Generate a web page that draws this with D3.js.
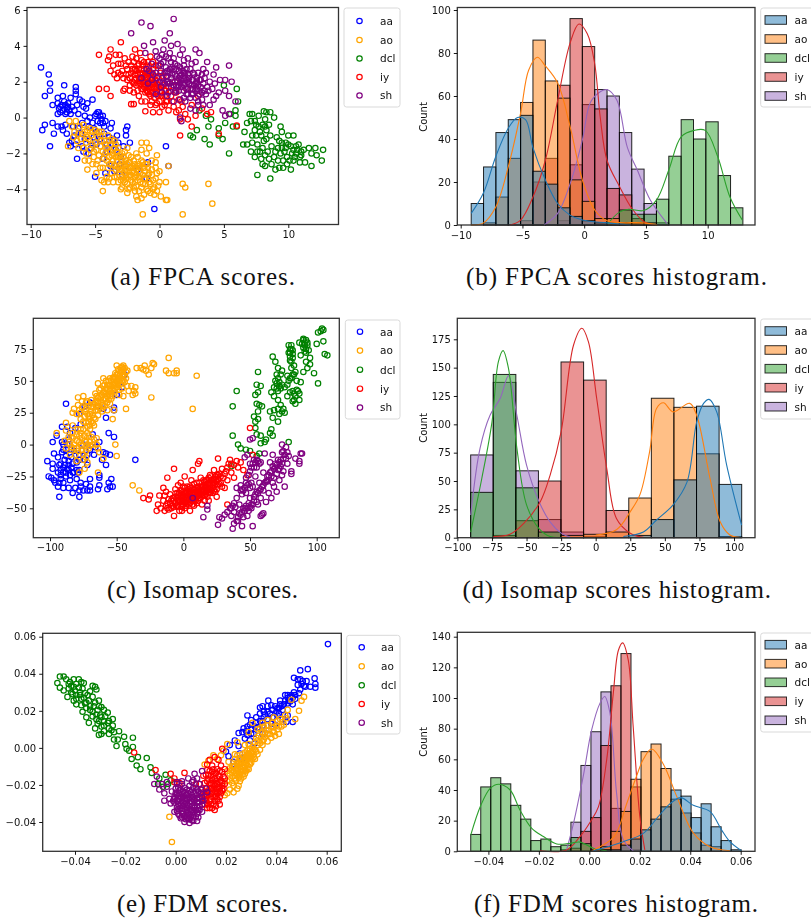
<!DOCTYPE html>
<html>
<head>
<meta charset="utf-8">
<script src="https://cdn.jsdelivr.net/npm/d3@7"></script>
<style>
  html, body { margin: 0; padding: 0; background: #fff; overflow: hidden; }
  svg { display: block; }
  .plot { filter: blur(0.4px); }
</style>
</head>
<body>
<svg id="fig" width="811" height="920"></svg>
<script>
var labels = ["aa", "ao", "dcl", "iy", "sh"];
var scatterColors = ["blue", "orange", "green", "red", "purple"];
var histColors = ["#1f77b4", "#ff7f0e", "#2ca02c", "#d62728", "#9467bd"];

// (a) FPCA scores
var fpcaAa = [[-9.2,2.8],[-8.6,2.4],[-8.5,1.9],[-8.5,1.5],[-8.9,1.2],[-8.3,.7],[-9.1,-.7],[-8.9,-.4],[-8.3,-.3],[-8.2,-.9],[-8.5,-1.6],[-7.9,-.5],[-7.4,1.8],[-6.5,1.7],[-6.5,1.5],[-6.5,1.3],[-5.2,1],[-.4,-5.1],[.5,-1.6],[.7,-2.7],[-.9,-2.5],[-1,-3.4],[-5,-3.3],[-6.4,-2.3],[-2.5,-.5],[-2.6,-.7],[-2.6,-1],[-2.3,-1.4],[-7.9,1.1],[-7.9,.8],[-7.7,.6],[-7.5,.4],[-7.3,.7],[-7.2,.5],[-7.5,1.2],[-7.1,.8],[-7,.4],[-7.7,.3],[-7.9,.2],[-6.6,.4],[-6.4,.7],[-6.2,1],[-6,.9],[-5.9,.6],[-5.6,.8],[-5.7,.5],[-6.3,.2],[-5.8,.1],[-5.4,0],[-5,.1],[-4.7,.3],[-4.6,.1],[-4.5,-.1],[-4.4,.1],[-4.8,-.2],[-5.2,-.3],[-4.3,-.5],[-3.7,-.3],[-3.8,-.6],[-5.5,-.5],[-6,-.3],[-6.7,-.5],[-7.3,-.4],[-7.5,-.7],[-7.2,-.9],[-6.8,-1.3],[-6.5,-1.5],[-6,-1.6],[-5.9,-1.9],[-5.5,-2],[-5.3,-1.7],[-5.8,-1.2],[-4.9,-1.5],[-4.6,-1.2],[-3.6,-1.2],[-3.3,-1],[-3.4,-1.8],[-3,-2.2],[-2.6,-2.7],[-3.8,-2.7],[-4.2,-3.1],[-2.9,-3.2],[-1.7,-2.9],[-4.1,-1.9],[-6.9,-1.6],[-7,-1.4],[-6.1,-.9],[-4.9,-.8],[-7.6,-.5],[-6.9,1.1],[-7.3,.2],[-7.8,.5],[-7.4,.9],[-7.2,.3],[-7.6,.7],[-7.1,.6],[-6.8,.6],[-6.9,.2],[-4.9,.2],[-4.8,.3],[-4.6,-.3],[-4.4,-.3],[-4.2,-.2],[-5.1,-.6],[-5.6,-.2],[-6.3,-.6],[-6.6,-1],[-5.4,-1.3],[-5.1,-1.1],[-4.3,-.9],[-3.9,-1.1],[-4.1,-1.5],[-3.6,-1.5],[-3.2,-1.4],[-2.8,-1.6],[-3.1,-2.6],[-3.5,-3],[-4.4,-2.3]];
var fpcaAo = [[-7.1,-1.6],[-5.8,-2.4],[-5.5,-2.4],[-5.6,-2.9],[-5.2,-2.6],[-4.9,-3.1],[-4.5,-3.5],[-4.3,-3.6],[-4.4,-4.1],[-3,-4],[-2.3,-3.9],[-1.8,-4.4],[-1.7,-4.6],[-1.4,-4.5],[-1.2,-4.3],[-1.3,-5.4],[1.8,-5.4],[4.1,-4.8],[3.8,-3.7],[1.8,-3.7],[2,-3.9],[.5,-4.6],[.6,-4.6],[.5,-3.6],[.7,-2.7],[-.2,-2.1],[-.8,-1.7],[-1.4,-1.4],[-1,-2],[-.6,-2.4],[-.3,-2.5],[-.2,-3.1],[0,-3],[0,-3.6],[-.4,-3.9],[-.2,-4.1],[-7,-.2],[-6.8,-.5],[-6.6,-.8],[-6.5,-.2],[-6.2,-.5],[-6,-.9],[-5.9,-.4],[-5.6,-.7],[-5.5,-1.2],[-5.3,-1],[-5,-.7],[-5,-1.4],[-4.8,-1.1],[-4.6,-1.6],[-4.5,-.8],[-4.3,-1.3],[-4.2,-2],[-4.1,-1.7],[-4,-1],[-3.9,-2.2],[-3.8,-1.5],[-3.7,-2.6],[-3.6,-2],[-3.5,-1.3],[-3.4,-2.9],[-3.3,-2.4],[-3.2,-1.7],[-3.1,-3.2],[-3,-2.7],[-2.9,-2],[-2.8,-3.5],[-2.7,-3],[-2.6,-2.4],[-2.5,-1.7],[-2.4,-3.3],[-2.3,-2.8],[-2.2,-2.2],[-2.1,-3.6],[-2,-3.1],[-1.9,-2.6],[-1.8,-3.8],[-1.7,-2.2],[-1.6,-3.3],[-1.5,-2.8],[-1.4,-3.9],[-1.3,-2.5],[-1.2,-3.4],[-1.1,-3],[-1,-4],[-.9,-2.8],[-.8,-3.6],[-.7,-4.2],[-.6,-3.2],[-.5,-4],[-4.8,-2.4],[-4.4,-2.8],[-4.1,-3.3],[-3.6,-3.6],[-3.2,-3.6],[-2.4,-4],[-1,-1.4],[-1.4,-1.8],[-6.4,-1.3],[-5.9,-1.7],[-5.1,-1.9],
  [-6.7,-1.1],[-6.3,-.9],[-6.1,-1.2],[-5.8,-.8],[-5.7,-1.4],[-5.4,-.6],[-5.2,-1.5],[-4.9,-1.8],[-4.7,-.8],[-4.7,-2.1],[-4.5,-1.3],[-4.4,-1.9],[-4.2,-1.5],[-4.1,-2.4],[-4,-2.8],[-3.9,-1.3],[-3.8,-1.9],[-3.7,-3.1],[-3.6,-2.4],[-3.5,-1.7],[-3.4,-2.2],[-3.3,-3.3],[-3.3,-1.9],[-3.2,-2.8],[-3.1,-2.1],[-3,-3.5],[-3,-2.3],[-2.9,-2.9],[-2.8,-2.2],[-2.8,-2.7],[-2.7,-3.6],[-2.7,-1.9],[-2.6,-3.2],[-2.5,-2.6],[-2.5,-3.7],[-2.4,-2.1],[-2.3,-3.2],[-2.3,-2.5],[-2.2,-3.5],[-2.1,-2.7],[-2.1,-3],[-2,-2.4],[-2,-3.9],[-1.9,-3.3],[-1.8,-2.9],[-1.8,-2],[-1.7,-3.5],[-1.6,-2.6],[-1.6,-4.1],[-1.5,-3.1],[-1.4,-2.4],[-1.3,-3.7],[-1.2,-2.8],[-1.1,-3.4],[-1,-2.6],[-.9,-3.2],[-.9,-4.1],[-.7,-3.7],[-.6,-2.9],[-.5,-3.5],[-.4,-4.3],[-.3,-3.4],[-.1,-3.8],[.1,-4.4],[-3.9,-3.4],[-3.5,-3.3],[-2.9,-3.9],[-2.5,-4.2],[-1.9,-4.1],[-5.4,-1.8],[-5.7,-2],[-5.1,-2.2],[-4.6,-2.8],[-4,-3.6],
  [-6.3,-1.7],[-5.6,-1.1],[-5.2,-.8],[-4.9,-2.6],[-4.6,-1],[-4.3,-2.3],[-4,-1.9],[-3.9,-2.6],[-3.7,-1.2],[-3.7,-2.1],[-3.5,-2.7],[-3.4,-1.5],[-3.2,-2.2],[-3.1,-2.9],[-2.9,-2.4],[-2.9,-3.3],[-2.7,-2.6],[-2.6,-2.9],[-2.6,-3.4],[-2.4,-2.5],[-2.4,-3],[-2.2,-2.8],[-2.2,-3.2],[-2,-2.8],[-1.9,-3.6],[-1.8,-3.2],[-1.7,-2.7],[-1.6,-3],[-1.5,-3.6],[-1.3,-3.2],[-1.1,-2.6],[-1.1,-3.7],[-.8,-3.1],[-.3,-2.8]];
var fpcaDcl = [[5,1.8],[6,1.6],[6.1,.9],[5.9,.4],[5.9,.1],[5.5,.2],[5.1,-.3],[5.7,-.5],[6,-.5],[4.6,-.6],[4.6,-1],[4.9,-1.2],[5.4,-2],[3.9,-1.5],[3.5,-1.2],[3.8,-.5],[4,-.1],[3.6,.1],[3.1,.4],[2.9,-.7],[2.4,-1],[2.6,-1.1],[7.6,-3.2],[8.6,-3.4],[7,.2],[7.2,.2],[7.1,-.2],[7.4,-.2],[6.8,-.3],[6.6,-.8],[7.4,-.7],[7.7,-.5],[8,-.4],[8.2,-.1],[8.5,-.4],[8.3,.3],[8.1,.35],[8.6,.3],[7.7,.1],[8.9,0],[9.4,-.5],[9.5,-.8],[9.1,-1.1],[8.6,-1],[8.3,-1.2],[7.9,-1],[7.5,-1],[7.2,-1.4],[6.8,-1.5],[6.5,-1.5],[7.1,-1.9],[7.4,-2.2],[7.9,-2.3],[8,-1.7],[8.4,-1.9],[8.7,-1.6],[9,-1.9],[8.5,-2.3],[8.7,-2.6],[8,-2.6],[9,-2.9],[9.3,-2.8],[9.6,-2.4],[9.9,-2.2],[10.2,-2.9],[10.4,-2.4],[10.6,-2],[10.2,-1.6],[9.8,-1.4],[9.5,-1.7],[10,-1],[10.4,-1],[10.8,-1.5],[11,-2.1],[11.3,-2.5],[11.6,-1.7],[11.8,-2],[12.2,-2.1],[12.1,-1.7],[12.7,-1.8],[12.6,-2.4],[11.8,-2.7],[10.9,-2.5],[11.2,-1.8],[9.7,-1.9],[10.3,-2],[10.7,-1.8],[9.3,-1.3],[7.5,-.4],[7.8,-.8],[8.1,-1.3],[8.3,-.7],[8.2,-.5],[7.6,-1.5],[7.8,-1.9],[8.2,-2.1],[8.9,-2.2],[9.2,-2.4],[9.4,-2],[9.8,-1.7],[10,-1.5],[10.1,-2.4],[10.4,-1.8],[10.5,-2.2],[10.6,-1.6],[10.9,-2.2],[11,-1.9],[9.6,-2.8],[9.9,-2.6],[8.2,-2.7],[7.6,-1.9],[7.2,-1],[9.2,-1.7],[9.5,-1.4]];
var fpcaIy = [[-4.7,3.5],[-3.8,3.8],[-3.1,3.5],[-3,4.2],[-4,3.2],[-3.8,2.6],[-3.5,2.4],[-3.3,2.2],[-3.6,2.9],[-3.2,3],[-2.9,2.6],[-2.7,3.3],[-2.6,2.9],[-2.7,1.6],[-2.8,1.5],[-2.4,2.4],[-2.3,1.8],[-2.2,2.9],[-2.1,3.4],[-1.9,3.8],[-1.8,2.2],[-1.7,1.5],[-1.6,2.7],[-1.5,1.9],[-1.4,3.2],[-1.3,2.4],[-1.2,1.7],[-1.1,2.1],[-1,2.9],[-.9,1.4],[-.8,2.4],[-.7,3.4],[-.6,1.9],[-.5,2.7],[-.4,1.1],[-.3,2.1],[-.2,.8],[-.1,2.9],[.1,1.5],[.2,.6],[.3,2.3],[.4,1.2],[.6,2],[.7,.4],[.8,1.5],[1,.9],[1.2,2],[1.3,.3],[1.5,1],[1.6,-.1],[1.8,.6],[2.1,1.6],[2.2,-.1],[2.5,.7],[2.5,-.5],[2.8,.1],[3,1.2],[3.3,.5],[3.7,.2],[4,.3],[1.6,-1],[4.6,-.9],[6,-.45],[-4.7,1.6],[-4.1,1.6],[-3.8,1.2],[-2.2,.75],[-2,.75],[-1.1,.35],[-.5,.3],[0,.3],[-2.3,1.5],[-2,1.4],[-1.4,.9],[-.7,.7],[-1.9,2.7],[-1.2,2.7],[-.4,1.6],[.5,.9],
  [-3.9,3.4],[-3.4,3.5],[-3,3],[-2.8,2.2],[-2.5,2.1],[-2.4,3.1],[-2.2,2.5],[-2.1,2],[-2,3.1],[-1.9,2.4],[-1.8,1.8],[-1.8,3.3],[-1.7,2.9],[-1.6,2.2],[-1.5,3.6],[-1.5,2.5],[-1.4,1.6],[-1.3,2.9],[-1.3,2],[-1.2,3.1],[-1.2,2.3],[-1.1,1.4],[-1,2.5],[-1,1.8],[-.9,3.1],[-.9,2],[-.8,1.6],[-.8,2.8],[-.7,2.2],[-.7,1.2],[-.6,2.5],[-.6,1.4],[-.5,3.1],[-.5,1.8],[-.4,2.3],[-.3,1.4],[-.3,2.9],[-.2,1.9],[-.1,1.2],[-.1,2.3],[0,1.7],[0,.9],[.1,2.5],[.2,1.2],[.3,1.8],[.4,.7],[.5,1.5],[.6,.9],[.7,1.7],[.9,1.2],[1.1,.6],[1.3,1.4],[1.5,.4],[1.7,.9],[2,.2],[-2,1.9],[-2.5,2.7],[-1.6,1.2],[-1.1,.9],[-.3,.7],[-.6,.9],[-2.6,2.4],[-3,2.4],[-3.2,2.5],
  [-2.3,2.2],[-2.1,2.7],[-1.9,2.1],[-1.8,2.6],[-1.7,1.9],[-1.7,2.4],[-1.6,3],[-1.5,2.2],[-1.4,2.7],[-1.4,2],[-1.3,1.6],[-1.3,2.2],[-1.2,2],[-1.1,2.5],[-1.1,1.7],[-1,2.2],[-1,1.5],[-.9,2.5],[-.9,1.7],[-.8,2],[-.8,1.3],[-.7,1.9],[-.6,2.2],[-.6,1.7],[-.5,2.1],[-.5,1.4],[-.4,1.9],[-.3,1.7],[-.2,1.5],[-.1,1.8],[.1,1.2],[.2,1.7],[.4,1.5]];
var fpcaSh = [[1.1,5.5],[-1.4,5.3],[-.7,5.1],[-2.2,4.7],[.8,4.7],[-1.2,4],[-.5,4.2],[.4,4.3],[.9,4],[1.4,4.1],[1.8,3.8],[-.3,3.7],[.3,3.8],[-1.1,3.6],[0,3.3],[.7,3.3],[1.2,3],[1.6,3.5],[2.2,3.3],[2.8,3.8],[3.1,3.6],[2.8,3.1],[3.7,3.1],[3.4,2.7],[4.4,2.8],[5.4,2.9],[4.2,2.4],[4.7,2.1],[5.1,2.1],[5.6,2],[5.1,1.5],[5.9,.9],[5.4,1.2],[4.6,1.4],[4.2,1],[3.5,1.5],[3.9,.7],[4.9,.4],[5.1,.1],[5.4,.2],[-1,2.7],[-.6,3],[-.3,2.5],[0,2.9],[.2,2.2],[.5,2.8],[.7,1.9],[1,2.4],[1.3,1.8],[1.5,2.6],[1.7,2.1],[1.9,1.5],[2.1,2.7],[2.3,1.9],[2.5,1.3],[2.7,2.4],[2.9,1.6],[3.1,2.1],[3.3,1],[3.5,2.2],[3.7,1.7],[3.9,2],[2,.9],[2.4,.5],[1.6,1],[1.1,.9],[.6,1.2],[-.3,1.3],[.1,1.7],[-.6,2.1],[2.8,.4],[1.7,-.2],[1.6,0],[3,.7],[-.9,1.9],[-1.4,2.2],[.9,3.1],[1.9,2.9],[2.5,3],[4.1,1.6],
  [-.2,3.4],[.2,3.5],[.5,3.4],[.8,3.6],[.1,3],[.4,2.5],[.6,2.3],[.8,2.7],[1.1,2.7],[1.3,2.3],[1.4,2.9],[1.6,2.3],[1.8,2.6],[2,2.2],[2.2,2.4],[2.4,2.7],[2.6,2.1],[2.8,1.9],[3,2.5],[3.2,1.7],[3.4,1.9],[3.6,1.3],[3.8,1.5],[4.3,1.9],[4.4,1.2],[2.2,1.6],[2.4,1.1],[2.6,1.6],[2.8,1.1],[3.1,1.3],[3,.9],[3.4,.7],[1.5,1.5],[1.7,1.7],[1.9,1.1],[2.1,1.3],[1.2,1.4],[.9,1.7],[.7,1.4],[.4,1.9],[.2,1.4],[0,2],[-.2,2.2],[-.5,2.4],[-.8,2.6],[.3,3.1],[.6,2.6],[1,2],[1.4,2],[1.8,1.9],[2.2,2],[2.6,2.5],[2.9,2.2],[3.3,2.4],[3.6,2.5],[1.1,3.3],[1.9,3.2],
  [.1,2.6],[.3,2],[.5,2.3],[.7,2.5],[.9,2.2],[1,2.8],[1.1,1.8],[1.2,2.4],[1.3,2.7],[1.4,1.7],[1.5,2.2],[1.6,2.8],[1.6,1.9],[1.7,2.4],[1.8,2.2],[1.9,2.5],[1.9,1.8],[2,1.9],[2,2.5],[2.1,2.1],[2.1,1.6],[2.2,1.3],[2.3,2.2],[2.4,1.6],[2.5,2.1],[2.5,1.8],[2.6,1.3],[2.7,1.8],[2.8,1.5],[2.9,2],[3,1.8],[3.1,1.5],[3.2,2.1],[3.3,1.4],[1.5,1.8],[1.3,1.5],[.8,1.9],[.6,2]];

// (c) Isomap scores
var isoAa = [[-102,-13],[-98,-15],[-98,-19],[-101,-25],[-99,-26],[-97,-28],[-96,-30],[-93,-41],[-93,-30],[-90,-34],[-92,-24],[-92,-20],[-93,-16],[-90,-18],[-88,-22],[-86,-16],[-85,-28],[-86,-34],[-83,-38],[-81,-34],[-80,-27],[-78,-41],[-77,-33],[-78,-36],[-73,-31],[-72,-36],[-70,-27],[-70,-36],[-64,-35],[-63,-32],[-63,-26],[-63,-24],[-57,-35],[-55,-33],[-54,-27],[-56,-30],[-53,-33],[-36,-12],[-98,2],[-95,7],[-91,14],[-88,32],[-87,14],[-90,0],[-88,-4],[-86,4],[-84,-10],[-82,-5],[-80,-14],[-78,-8],[-78,-20],[-75,0],[-74,-12],[-72,-16],[-70,-4],[-68,8],[-67,-8],[-63,2],[-61,-12],[-58,-7],[-58,-16],[-55,-8],[-56,9],[-52,6],[-52,27],[-52,29],[-58,21],[-60,28],[-64,30],[-70,33],[-74,30],[-78,24],[-77,16],[-81,13],[-85,9],[-91,-6],[-94,-10],[-97,-7],[-89,-12],[-83,-15],[-79,-22],[-50,39],[-46,45],[-44,55],[-92,-15],[-86,-20],[-82,-22],[-94,-22],[-92,-27],[-90,-22],[-89,-16],[-88,-25],[-87,-19],[-86,-13],[-85,-24],[-84,-18],[-83,-22],[-88,-9],[-90,-4],[-91,2],[-87,0],[-84,-4],[-80,-20],[-78,-12],[-77,-30],[-75,-36],[-70,-33],[-90,-30],[-94,-33],[-76,-5],[-72,-8],[-66,-2],[-60,-6]];
var isoAo = [[-95,9],[-88,17],[-88,11],[-89,3],[-88,-3],[-85,-8],[-83,15],[-83,5],[-82,-3],[-80,-13],[-78,-22],[-77,9],[-76,-1],[-75,-8],[-73,2],[-71,7],[-72,-14],[-74,-19],[-73,-5],[-70,12],[-68,17],[-67,4],[-65,0],[-64,-3],[-63,-6],[-60,-11],[-50,-9],[-51,0],[-64,-22],[-82,28],[-83,25],[-79,31],[-79,37],[-77,25],[-76,34],[-75,38],[-74,22],[-73,28],[-72,34],[-71,18],[-70,24],[-69,35],[-68,29],[-67,21],[-66,40],[-65,34],[-64,27],[-64,48],[-63,43],[-62,37],[-61,31],[-60,41],[-60,52],[-59,47],[-58,36],[-57,27],[-57,43],[-56,50],[-55,38],[-54,46],[-53,52],[-52,42],[-51,48],[-50,55],[-49,47],[-48,58],[-47,52],[-46,61],[-45,55],[-44,49],[-44,60],[-43,57],[-50,62],[-55,32],[-53,20],[-52,27],[-43,28],[-48,39],[-45,38],[-41,42],[-39,46],[-38,39],[-37,42],[-36,45],[-36,40],[-35,60],[-30,59],[-29,62],[-32,60],[-28,58],[-26,55],[-24,37],[-24,60],[-22,63],[-23,64],[-13,58],[-11,68],[-11,56],[-7,56],[-5,58],[-5,56],[10,54],[7,28],[-38,-32],[-33,-36],[-48,43],[-42,46],[-46,44],
  [-78,27],[-76,29],[-74,26],[-73,33],[-72,24],[-71,30],[-70,20],[-69,26],[-69,18],[-68,23],[-67,32],[-67,15],[-66,27],[-66,20],[-65,30],[-65,38],[-64,33],[-64,23],[-63,38],[-63,29],[-62,44],[-62,33],[-61,39],[-61,26],[-60,35],[-60,46],[-59,41],[-59,30],[-58,44],[-58,50],[-57,38],[-57,33],[-56,46],[-56,40],[-55,43],[-55,52],[-54,50],[-54,40],[-53,47],[-53,43],[-52,53],[-52,47],[-51,44],[-51,56],[-50,50],[-50,45],[-49,52],[-49,59],[-48,50],[-48,54],[-47,57],[-47,48],[-46,54],[-46,50],[-45,59],[-45,50],[-44,54],[-42,58],[-86,6],[-85,0],[-84,-2],[-83,9],[-81,-8],[-80,3],[-79,-5],[-78,7],[-77,0],[-76,5],[-75,-12],[-74,7],[-73,-10],[-72,9],[-71,-3],[-70,2],[-69,6],[-68,0],[-79,12],[-75,12],[-72,14],[-70,15],[-77,20],
  [-80,24],[-77,12],[-75,18],[-73,17],[-71,22],[-69,30],[-66,33],[-64,37],[-62,28],[-60,31],[-59,36],[-58,40],[-57,47],[-56,35],[-55,47],[-54,36],[-53,38],[-52,51],[-51,52],[-50,47],[-49,55],[-47,60],[-46,57],[-45,62],[-43,52],[-82,0],[-80,-3],[-78,2],[-76,-4],[-74,3],[-72,0],[-70,-1],[-84,6],[-80,8],[-65,5]];
var isoDcl = [[104,91],[105,90],[101,88],[103,89],[105,81],[106,71],[108,70],[101,48],[98,56],[100,79],[95,63],[92,65],[90,57],[94,74],[92,82],[90,83],[91,78],[93,80],[89,79],[88,70],[87,80],[92,75],[81,78],[80,75],[79,72],[80,69],[82,71],[81,65],[83,62],[84,57],[82,55],[80,52],[78,54],[78,47],[85,50],[88,49],[85,43],[87,40],[83,40],[80,41],[82,34],[84,32],[87,35],[78,38],[74,26],[76,25],[72,24],[71,18],[68,27],[65,26],[67,21],[73,31],[71,35],[68,38],[68,45],[66,41],[70,44],[73,44],[76,45],[72,49],[70,55],[71,60],[74,58],[69,65],[67,69],[56,57],[58,46],[55,47],[54,39],[56,41],[55,32],[57,31],[59,30],[56,26],[53,22],[56,20],[54,18],[40,42],[37,30],[54,13],[55,8],[58,7],[37,7],[41,0],[43,-3],[47,-4],[66,12],[65,9],[61,2],[58,1],[62,4],[67,7],[79,2],[57,-7],[55,-9],[36,-17],[50,-5],[90,82],[91,80],[93,78],[90,76],[91,73],[81,75],[82,74],[80,72],[79,78],[82,68],[80,66],[81,60],[83,55],[81,52],[79,50],[71,52],[70,48],[72,46],[74,47],[71,42],[69,50],[73,55],[84,38],[86,42],[82,42],[83,35],[92,72],[95,68],[93,60],[75,28],[71,28]];
var isoIy = [[50,13],[-30,-42],[-26,-43],[-25,-40],[-7,-19],[-12,-26],[-15,-34],[-13,-37],[-20,-52],[-19,-47],[-18,-40],[-17,-50],[-15,-44],[-14,-52],[-12,-46],[-10,-39],[-9,-50],[-7,-56],[-7,-44],[-6,-35],[-5,-48],[-4,-40],[-3,-52],[-2,-30],[-1,-45],[0,-37],[1,-50],[1,-25],[2,-42],[3,-33],[4,-47],[5,-37],[6,-28],[7,-43],[7,-20],[8,-48],[9,-35],[10,-30],[11,-44],[11,-15],[12,-38],[13,-26],[14,-47],[15,-33],[16,-40],[12,-13],[17,-28],[18,-36],[19,-44],[20,-24],[21,-31],[22,-38],[23,-20],[24,-28],[25,-35],[26,-11],[27,-23],[28,-30],[29,-19],[30,-26],[31,-34],[32,-21],[33,-28],[34,-15],[35,-12],[36,-22],[38,-26],[40,-13],[41,-18],[43,-14],[45,-20],[48,-24],[52,-8],[33,-47],[-2,-44],[3,-42],[8,-38],[-8,-42],[-4,-32],[1,-34],[13,-42],[16,-32],[25,-41],[-11,-51],[5,-52],[-1,-52],[19,-30],[24,-37],[-14,-40],
  [-6,-46],[-5,-42],[-4,-49],[-3,-44],[-3,-38],[-2,-48],[-2,-40],[-1,-36],[-1,-49],[0,-43],[0,-33],[0,-47],[1,-41],[1,-45],[2,-37],[2,-48],[3,-38],[3,-46],[4,-35],[4,-43],[5,-41],[5,-46],[5,-33],[6,-44],[6,-38],[7,-35],[7,-47],[8,-41],[8,-31],[9,-44],[9,-39],[10,-37],[10,-46],[11,-33],[11,-40],[12,-42],[12,-30],[13,-36],[14,-33],[14,-40],[15,-37],[15,-28],[16,-36],[16,-44],[17,-33],[17,-39],[18,-31],[18,-41],[19,-35],[19,-26],[20,-38],[20,-32],[21,-36],[21,-25],[22,-30],[22,-34],[23,-27],[23,-36],[24,-31],[25,-24],[26,-32],[26,-27],[27,-31],[28,-25],[29,-33],[31,-23],[-9,-44],[-10,-46],[-11,-43],[-12,-50],[-8,-48],[-13,-48],[36,-15],[38,-16],[33,-18],
  [-7,-49],[-6,-41],[-5,-38],[-4,-44],[-3,-41],[-2,-36],[-1,-42],[0,-40],[1,-38],[2,-45],[3,-40],[4,-39],[5,-39],[6,-41],[6,-34],[7,-39],[8,-44],[8,-35],[9,-41],[10,-34],[10,-41],[11,-37],[12,-35],[13,-39],[13,-33],[14,-36],[15,-40],[16,-34],[16,-29],[17,-36],[18,-34],[18,-28],[19,-38],[20,-35],[21,-28],[22,-32],[23,-30],[24,-25],[25,-29],[26,-24]];
var isoSh = [[7,-42],[15,-57],[18,-48],[18,-51],[26,-63],[27,-57],[29,-58],[31,-55],[33,-53],[35,-50],[37,-66],[38,-46],[38,-53],[38,-62],[40,-42],[40,-34],[41,-60],[42,-54],[42,-47],[43,-36],[44,-64],[45,-57],[46,-50],[47,-38],[47,-30],[46,-10],[48,-8],[48,-56],[49,-46],[50,-42],[51,-50],[52,-33],[52,-64],[53,-44],[54,-25],[55,-37],[55,-18],[56,-47],[57,-30],[58,-14],[58,-42],[59,-55],[60,-22],[60,-36],[61,-7],[62,-45],[63,-28],[64,-38],[65,-14],[66,-25],[66,-42],[67,-8],[68,-33],[69,-18],[70,-23],[70,-37],[71,-12],[72,-28],[73,-17],[74,0],[74,-6],[75,-21],[76,-33],[77,-11],[78,-15],[77,-2],[79,-9],[84,-11],[81,-21],[81,-23],[87,-13],[87,-15],[88,-7],[89,-7],[52,5],[50,4],[58,-56],[60,-54],[63,-29],[44,-39],[50,-21],[53,-12],[49,-24],
  [36,-50],[37,-48],[39,-49],[36,-56],[40,-60],[41,-57],[43,-55],[44,-53],[45,-50],[46,-52],[47,-48],[48,-50],[49,-52],[50,-49],[51,-47],[52,-47],[53,-41],[54,-39],[55,-45],[56,-38],[57,-36],[58,-35],[59,-33],[60,-32],[61,-30],[62,-29],[63,-25],[64,-24],[65,-22],[66,-21],[67,-17],[68,-19],[69,-15],[70,-16],[71,-20],[72,-14],[73,-12],[74,-15],[75,-11],[43,-32],[44,-35],[45,-36],[46,-34],[48,-32],[49,-31],[50,-34],[51,-30],[47,-26],[52,-15],[53,-18],[54,-14],[55,-12],[56,-13],[57,-15],[51,-18],[50,-15],[75,-5],[76,-8],[78,-6],[67,-30],[68,-26],[72,-19],[74,-24]];

// (e) FDM scores
var fdmAa = [[.0605,.056],[.0525,.0425],[.0495,.0418],[.0552,.0375],[.0495,.037],[.047,.0378],[.0485,.034],[.05,.0345],[.0515,.033],[.0535,.033],[.0555,.0345],[.0555,.0325],[.052,.036],[.047,.03],[.0495,.0315],[.0455,.0275],[.0435,.0285],[.0415,.0255],[.0475,.0265],[.0445,.024],[.042,.0225],[.0465,.0235],[.0445,.0175],[.0465,.014],[.044,.014],[.0425,.0205],[.0405,.0215],[.0385,.0205],[.0368,.0255],[.0345,.0225],[.0365,.0195],[.0335,.0218],[.0385,.0165],[.035,.0165],[.032,.0135],[.0285,.0175],[.0325,.011],[.0345,.012],[.03,.0105],[.0355,.008],[.031,.0075],[.0285,.007],[.0265,.0085],[.025,.008],[.0275,.005],[.0295,.004],[.0235,.004],[.0215,.0015],[.025,.001],[.02,-.002],[.021,-.0045],[.023,-.0075],[.0265,-.006],[.0255,-.003],[.0395,.0125],[.041,.0185],[.038,.013],[.0425,.0155],[.0315,.0025],[.024,-.011],[.0345,.0075],[.0505,.036],[.051,.0335],[.0485,.037],[.049,.0295],[.0475,.0285],[.045,.0255],[.046,.0285],[.0435,.0255],[.0445,.027],[.041,.0215],[.04,.0195],[.038,.023],[.0365,.0225],[.035,.0195],[.0335,.0185],[.032,.0165],[.03,.015],[.0335,.0145],[.0365,.0155],[.0405,.0175],[.0285,.0115],[.027,.0105],[.03,.0075],[.0445,.0285],[.0455,.025],[.0465,.027],[.043,.0235],[.0415,.0235],[.0395,.0225],[.0375,.0185],[.0355,.018],[.0345,.0145],[.0315,.0115],[.0295,.0125],[.028,.009]];
var fdmAo = [[-.0015,-.0508],[-.0025,-.0372],[.0195,-.0255],[.0205,-.0245],[.0215,-.0225],[.023,-.024],[.0245,-.022],[.0115,-.009],[.013,-.007],[.015,-.004],[.0165,-.006],[.018,-.004],[.019,-.0015],[.0205,.002],[.0245,.003],[.0205,-.018],[.0215,-.014],[.0225,-.019],[.0235,-.015],[.0245,-.011],[.0255,-.018],[.026,-.013],[.0225,-.01],[.021,-.0075],[.0235,-.006],[.0255,-.008],[.0265,-.01],[.0275,-.014],[.028,-.007],[.029,-.0115],[.0245,-.004],[.027,-.005],[.0295,-.0045],[.03,-.008],[.0315,-.006],[.0325,-.0035],[.0285,-.0015],[.0305,.0005],[.0335,-.001],[.0275,.0015],[.0315,.003],[.0345,.0035],[.0365,.0035],[.033,.0065],[.0355,.008],[.0375,.0075],[.0395,.0065],[.041,.0075],[.0325,.01],[.035,.0115],[.038,.0115],[.04,.012],[.042,.0115],[.0365,.015],[.039,.0165],[.0415,.0155],[.044,.016],[.0475,.0155],[.0445,.0205],[.049,.02],[.046,.026],[.051,.0275],[.05,.0255],[.0305,.0135],[.029,.0085],[.025,-.016],[.0215,-.011],[.0235,-.0035],
  [.0205,-.0125],[.0215,-.0175],[.022,-.012],[.0225,-.0155],[.023,-.0125],[.023,-.0205],[.0235,-.0095],[.024,-.0175],[.024,-.0135],[.0245,-.0075],[.025,-.0115],[.025,-.0205],[.0255,-.0145],[.0255,-.0055],[.026,-.0165],[.026,-.0085],[.0265,-.0125],[.0265,-.0035],[.027,-.0155],[.027,-.0105],[.027,-.0075],[.0275,-.0025],[.0275,-.0105],[.028,-.0045],[.028,-.0125],[.0285,-.0095],[.0285,-.006],[.029,-.003],[.0295,-.0075],[.0295,-.0005],[.03,-.0025],[.0305,-.006],[.031,-.0035],[.031,-.0005],[.032,-.002],[.0325,.0015],[.0335,.0025],[.034,.0055],[.035,.0045],[.0355,.006],[.0365,.0075],[.037,.0095],[.0385,.009],[.039,.011],[.0405,.01],[.0345,.0085],[.0335,.0105],[.0365,.012],[.0385,.0135],[.0405,.0145],[.0425,.014],[.0435,.0175],[.0345,.0135],[.032,.0055],[.029,.002],
  [.0225,-.0135],[.023,-.0105],[.0235,-.0165],[.024,-.0115],[.0245,-.0145],[.025,-.0085],[.025,-.0135],[.0255,-.0105],[.026,-.0065],[.026,-.0115],[.0265,-.0145],[.027,-.009],[.0275,-.012],[.0275,-.0065],[.028,-.0085],[.0285,-.0035],[.0285,-.011],[.029,-.0055],[.0295,-.009],[.03,-.005],[.0305,-.0015],[.031,-.005],[.0315,-.001],[.0325,.004],[.0345,.0015],[.036,.0095],[.038,.0055],[.039,.0085],[.041,.0115],[.043,.0125]];
var fdmDcl = [[-.047,.035],[-.046,.0385],[-.0445,.0385],[-.0435,.037],[-.046,.0325],[-.0445,.031],[-.042,.0355],[-.0405,.037],[-.0385,.037],[-.0375,.0355],[-.0365,.035],[-.0425,.032],[-.0405,.033],[-.0385,.0325],[-.037,.032],[-.043,.0275],[-.041,.029],[-.0395,.0285],[-.038,.0285],[-.0365,.027],[-.035,.0285],[-.033,.0335],[-.032,.033],[-.0315,.0315],[-.034,.0305],[-.0395,.0235],[-.0375,.023],[-.036,.024],[-.0345,.0255],[-.033,.0275],[-.0305,.0255],[-.037,.0195],[-.0355,.0215],[-.034,.0205],[-.0325,.0225],[-.031,.0205],[-.0295,.022],[-.0285,.0205],[-.027,.019],[-.0355,.0165],[-.0345,.0135],[-.033,.017],[-.0315,.0155],[-.03,.0175],[-.0285,.0145],[-.0265,.0145],[-.025,.0155],[-.032,.0105],[-.031,.013],[-.0295,.0115],[-.0285,.009],[-.0265,.0105],[-.025,.012],[-.0245,.0085],[-.0245,.0045],[-.023,.0045],[-.0235,.001],[-.0265,.0075],[-.0225,.009],[-.0205,.006],[-.02,.002],[-.0195,-.0005],[-.0185,-.0015],[-.017,.0055],[-.017,.0005],[-.015,-.005],[-.0175,-.006],[-.0155,-.0095],[-.014,-.0115],[-.0115,-.0055],[-.01,-.0105],[-.0095,-.0135],[-.0065,-.0165],[-.004,-.0145],[-.003,-.0195],[-.005,-.021],[-.007,-.0195],[-.002,-.0175],[-.0305,.007],[-.0295,.0075],[-.0405,.0255],[-.0415,.0335],[-.0395,.0345],[-.04,.031],[-.038,.03],[-.0415,.03],[-.0425,.0345],[-.0395,.0265],[-.0375,.0265],[-.036,.0295],[-.0355,.0245],[-.034,.0225],[-.032,.0245],[-.0305,.0225],[-.033,.0195],[-.0315,.018],[-.0295,.0165],[-.028,.017],[-.027,.0135],[-.0305,.0145],[-.0285,.012],[-.0255,.0095]];
var fdmIy = [[-.0165,-.0025],[-.008,-.012],[-.002,-.014],[.0035,-.0135],[.0135,-.0065],[.0155,-.005],[.0185,-.0005],[.0125,-.009],[.017,-.0065],[-.0005,-.0185],[.0015,-.019],[-.0005,-.0165],[.011,-.015],[.0125,-.012],[.0145,-.0095],[.0165,-.0115],[.018,-.0095],[.0115,-.019],[.013,-.0165],[.015,-.014],[.017,-.015],[.0185,-.013],[.0125,-.0215],[.014,-.019],[.016,-.018],[.018,-.0175],[.0195,-.0165],[.011,-.024],[.013,-.0245],[.015,-.0225],[.017,-.021],[.0185,-.0205],[.012,-.028],[.014,-.0275],[.016,-.026],[.018,-.0245],[.013,-.031],[.015,-.0305],[.017,-.0285],[.0125,-.0325],[.0145,-.0325],[.0095,-.0195],[.009,-.027],[.0105,-.0305],[.0155,-.02],[.008,-.0195],[.0195,-.0115],[.0165,-.0165],
  [.012,-.0145],[.0135,-.0125],[.015,-.0115],[.0155,-.0165],[.014,-.015],[.0125,-.018],[.0135,-.0195],[.0145,-.0215],[.0165,-.0195],[.0175,-.0185],[.019,-.0155],[.0195,-.0195],[.0175,-.0125],[.016,-.0225],[.0175,-.0235],[.0155,-.0245],[.0125,-.0235],[.0135,-.022],[.012,-.0255],[.014,-.025],[.0165,-.024],[.0175,-.0265],[.015,-.0265],[.0135,-.029],[.0155,-.0285],[.0115,-.0275],[.0115,-.0305],[.0135,-.0325],[.016,-.0315],[.0105,-.0225],[.0175,-.0305],
  [.013,-.0145],[.0145,-.013],[.016,-.0135],[.0175,-.0155],[.0145,-.0175],[.015,-.0195],[.0185,-.019],[.0165,-.0215],[.0145,-.0235],[.0175,-.022],[.0185,-.023],[.0125,-.026],[.0155,-.0265],[.0165,-.0275],[.0125,-.03],[.014,-.0305],[.0155,-.0335],[.0115,-.0255],[.0105,-.0285],[.019,-.022]];
var fdmSh = [[.0075,-.014],[.005,-.0165],[.0025,-.018],[.0005,-.0195],[.0085,-.0165],[.0105,-.0125],[.007,-.0175],[-.0075,-.0155],[-.0085,-.0195],[-.0055,-.0195],[-.0065,-.0225],[-.0045,-.0245],[-.0035,-.021],[-.0045,-.0285],[-.0025,-.0275],[-.0015,-.0235],[-.0005,-.0265],[-.002,-.03],[-.0005,-.0295],[0,-.022],[.0015,-.0245],[.0015,-.0275],[.0005,-.032],[.002,-.0305],[-.0005,-.0345],[.001,-.0355],[.0025,-.034],[.002,-.038],[.0035,-.0365],[.0035,-.0215],[.004,-.0255],[.004,-.029],[.0045,-.0325],[.005,-.0385],[.005,-.035],[.0055,-.0205],[.006,-.024],[.0065,-.0275],[.0065,-.0315],[.007,-.036],[.007,-.0395],[.008,-.0215],[.0085,-.0255],[.0085,-.0295],[.009,-.0335],[.0095,-.0195],[.01,-.0225],[.0105,-.0265],[.0105,-.0305],[.0055,-.0405],[.0035,-.04],[.009,-.0375],[.0125,-.024],[.012,-.022],[.0025,-.0195],[.0005,-.0185],[-.0035,-.0185],[.0065,-.0185],[.011,-.0285],
  [.001,-.0215],[.002,-.0225],[.003,-.0235],[.0045,-.0225],[.005,-.0245],[.007,-.0215],[.0075,-.0245],[.009,-.0235],[.0095,-.027],[.0075,-.0285],[.0055,-.0265],[.003,-.0265],[.0025,-.025],[.001,-.026],[0,-.0245],[-.001,-.0285],[.0005,-.0285],[.0025,-.0285],[.0045,-.0275],[.0055,-.0295],[.0075,-.031],[.0095,-.0315],[.0035,-.0305],[.001,-.0305],[.0005,-.034],[.002,-.0325],[.0035,-.033],[.0055,-.033],[.008,-.0335],[.0045,-.0345],[.006,-.0345],[.0075,-.0345],[.003,-.0355],[.0015,-.0365],[.0045,-.037],[.006,-.0375],[.008,-.037],[.0025,-.0375],[.004,-.0385],[.0065,-.039],[.0105,-.0345],[.0085,-.0395],
  [.0015,-.023],[.0035,-.0245],[.0055,-.023],[.0065,-.0255],[.0085,-.0225],[.0085,-.0275],[.01,-.0245],[.0105,-.0285],[.009,-.0295],[.007,-.0265],[.006,-.0285],[.0045,-.0255],[.0035,-.0275],[.002,-.0265],[.0005,-.0255],[-.0005,-.0275],[.001,-.029],[.003,-.0295],[.0045,-.031],[.0065,-.0295],[.0085,-.0315],[.0015,-.0315],[.003,-.0315],[.0055,-.0315],[.0075,-.0325],[.0095,-.0335],[.001,-.033],[.0045,-.0335],[.0065,-.0335],[.0085,-.0355],[.0025,-.0355],[.0055,-.036],[.007,-.0375],[.0035,-.0375],[.0055,-.0385]];

// (b) FPCA histogram counts by bin
var fpcaBins = { start: -9.15, width: 1.0 };
var fpcaCounts = [
  [10,27,43,49,51,25,19,8,4,2,1,0,0,0,0,0,0,0,0,0,0,0],
  [0,1,13,31,57,86,67,59,21,11,3,3,1,1,1,0,0,0,0,0,0,0],
  [0,0,0,0,0,0,0,0,0,0,0,1,7,5,5,12,32,49,40,48,23,8],
  [0,0,0,0,2,20,31,65,96,83,54,17,14,3,0,0,0,0,0,0,0,0],
  [0,0,0,0,0,0,0,2,28,56,63,60,43,26,10,1,0,0,0,0,0,0]
];
var fpcaKde = [
  [[-9.15,5.4],[-8.15,15],[-7.15,32],[-6.15,45],[-5.4,50],[-4.75,49],[-4.15,36],[-3.15,21],[-2.15,10],[-1.15,4.6],[-.15,2.3],[1.85,1],[3.75,0]],
  [[-9.15,0],[-8.15,1],[-7.15,8.5],[-6.15,27],[-5.15,52],[-4.5,72],[-3.8,78],[-3.15,74],[-2.15,66],[-1.15,46],[-.15,21],[.85,7],[1.85,2],[4.8,1],[5.9,0]],
  [[1.9,.5],[2.85,6],[3.6,7.3],[4.8,6.7],[5.85,11.6],[6.85,25.6],[7.85,41],[8.9,44],[9.8,44],[10.8,32],[11.8,13],[12.8,2.3]],
  [[-6,0],[-5.15,2.3],[-4.15,13],[-3.15,30],[-2.15,58],[-1.15,84.5],[-.43,93.5],[.25,89],[.85,75],[1.3,50],[1.85,30],[2.85,18],[3.85,7.8],[4.85,1.5],[5.6,0]],
  [[-3.25,0],[-2.15,5.4],[-1.15,19],[-.15,39.5],[.5,57],[1.3,62],[1.85,63],[2.65,58],[3.5,36],[4.3,25.6],[5.35,11.6],[6.7,.8]]
];

// (d) Isomap histogram counts by bin
var isoBins = { start: -90.4, width: 16.33 };
var isoCounts = [
  [0,0,0,0,0,0,0,2,16,51,116,47],
  [0,0,0,0,2,3,5,35,123,115,74,1],
  [40,144,44,5,0,0,0,0,0,0,0,0],
  [0,2,15,50,155,139,24,0,0,0,0,0],
  [73,137,59,16,5,1,0,0,0,0,0,0]
];
var isoKde = [
  [[20,1],[34.5,5],[44,15.6],[56,29],[66,49],[73,102],[78,118.5],[82,122],[87.5,111],[94.7,64],[105.5,11]],
  [[0,2.4],[15,7],[25,23],[32,38],[39,76],[44,114],[49,119],[56,111],[68,118.5],[73,108],[82.7,52],[90,14],[97,2.4],[104,.3]],
  [[-90.4,5],[-82.4,52],[-75,102],[-70.4,155],[-67,165],[-63,149],[-57,79],[-50,29],[-41,8],[-33,1],[-25,0]],
  [[-74,1],[-62,3],[-52,12.6],[-40,32],[-33,55],[-25,93.5],[-16,170],[-10,184.7],[-5.3,173],[.7,123],[8,61],[15,17],[25,4],[34.5,.3]],
  [[-90.4,20],[-83.6,79],[-76.4,108],[-69,123],[-63,143],[-57,108],[-50,64],[-41,32],[-33,14],[-25,4],[-18.5,.5]]
];

// (f) FDM histogram counts by bin
var fdmBins = { start: -.047, width: .00397 };
var fdmCounts = [
  [0,0,0,0,0,0,0,0,0,0,0,0,0,1,1,4,8,14,21,29,40,36,22,31,16,7,1],
  [0,0,0,0,0,0,0,0,0,0,0,0,1,3,13,26,47,65,70,54,34,25,12,4,3,0,0],
  [11,42,48,44,30,21,7,8,3,4,9,5,0,1,0,0,0,0,0,0,0,0,0,0,0,0,0],
  [0,0,0,0,0,0,0,0,0,0,2,13,22,69,108,129,42,0,0,0,0,0,0,0,0,0,0],
  [0,0,0,0,0,0,0,0,0,1,19,56,78,104,28,4,1,0,0,0,0,0,0,0,0,0,0]
];
var fdmKde = [
  [[.0016,.3],[.0135,6.3],[.0214,11.7],[.0273,22.6],[.032,31],[.0362,35],[.0412,30],[.0478,26],[.0524,14],[.0557,6.3],[.0603,.4]],
  [[.0016,.9],[.0098,9.6],[.0148,31],[.0187,49],[.0214,60],[.0247,66.7],[.0293,57],[.0346,36],[.0412,12],[.0478,3],[.0557,.4]],
  [[-.047,10.6],[-.043,30],[-.0393,41],[-.036,43.7],[-.0314,40],[-.0275,27],[-.0228,15],[-.0182,9.6],[-.0129,4.8],[-.0077,5.2],[-.0037,6],[.0016,2],[.0069,.4]],
  [[-.0195,.4],[-.009,.9],[-.0037,9.6],[.0003,19],[.0036,29],[.0069,60],[.0095,103],[.0115,131],[.0132,136],[.0154,125],[.0174,81],[.02,23],[.022,.9]],
  [[-.009,.9],[-.0063,18],[-.0024,49],[.0009,79],[.0042,96.5],[.0061,101],[.0082,90],[.0108,38],[.0135,7.4],[.0174,.4]]
];

var fpcaXTicks = [-10, -5, 0, 5, 10], fpcaYTicks = [-4, -2, 0, 2, 4, 6];
var isoXTicks = [-100, -50, 0, 50, 100], isoYTicks = [-50, -25, 0, 25, 50, 75];
var fdmXTicks = [-.04, -.02, 0, .02, .04, .06], fdmYTicks = [-.04, -.02, 0, .02, .04, .06];
var fpcaCountTicks = [0, 20, 40, 60, 80, 100];
var isoHistXTicks = [-100, -75, -50, -25, 0, 25, 50, 75, 100], isoCountTicks = [0, 25, 50, 75, 100, 125, 150, 175];
var fdmCountTicks = [0, 20, 40, 60, 80, 100, 120, 140];

var captions = [
  { t: "(a) FPCA scores.", x0: 110.5, x1: 295, y: 285 },
  { t: "(b) FPCA scores histogram.", x0: 466, x1: 767, y: 285 },
  { t: "(c) Isomap scores.", x0: 107, x1: 298, y: 598 },
  { t: "(d) Isomap scores histogram.", x0: 462.5, x1: 771, y: 598 },
  { t: "(e) FDM scores.", x0: 117, x1: 288, y: 912 },
  { t: "(f) FDM scores histogram.", x0: 474, x1: 758, y: 912 }
];

var svg = d3.select("#fig");
var minus = function(s) { return s.replace("-", "\u2212"); };

function frame(g, box) {
  g.append("rect").attr("x", box.l).attr("y", box.t)
    .attr("width", box.r - box.l).attr("height", box.b - box.t)
    .attr("fill", "none").attr("stroke", "#333").attr("stroke-width", 1.3);
}

// x/y are d3 linear scales, already mapped to page pixels
function axes(g, box, x, y, xTicks, yTicks, fmt) {
  var ax = g.append("g").attr("transform", "translate(0," + box.b + ")")
    .call(d3.axisBottom(x).tickValues(xTicks).tickSize(3.5).tickPadding(3).tickFormat(function(d) { return minus(fmt.x(d)); }));
  var ay = g.append("g").attr("transform", "translate(" + box.l + ",0)")
    .call(d3.axisLeft(y).tickValues(yTicks).tickSize(3.5).tickPadding(3).tickFormat(function(d) { return minus(fmt.y(d)); }));
  [ax, ay].forEach(function(a) {
    a.select(".domain").remove();
    a.selectAll("text").attr("font-family", "DejaVu Sans").attr("font-size", 10).attr("fill", "#111");
    a.selectAll("line").attr("stroke", "#000").attr("stroke-width", .9);
  });
}

function legendBox(g, lg) {
  g.append("rect").attr("x", lg.x0).attr("y", lg.y0).attr("width", lg.x1 - lg.x0).attr("height", lg.y1 - lg.y0)
    .attr("rx", 2.5).attr("fill", "#fff").attr("stroke", "#d9d9d9").attr("stroke-width", 1);
}

function drawScatter(cfg) {
  var box = cfg.box;
  var g = svg.append("g").attr("class", "plot");
  var x = d3.scaleLinear().domain(cfg.xd).range(cfg.xr);
  var y = d3.scaleLinear().domain(cfg.yd).range(cfg.yr);
  cfg.series.forEach(function(pts, i) {
    g.append("g").selectAll("circle").data(pts).enter().append("circle")
      .attr("cx", function(d) { return x(d[0]); })
      .attr("cy", function(d) { return y(d[1]); })
      .attr("r", 2.7).attr("fill", "none")
      .attr("stroke", scatterColors[i]).attr("stroke-width", 1.2);
  });
  frame(g, box);
  axes(g, box, x, y, cfg.xTicks, cfg.yTicks, cfg.fmt);
  legendBox(g, cfg.legend);
  labels.forEach(function(l, i) {
    var ly = cfg.legend.ys[i];
    g.append("circle").attr("cx", cfg.legend.mx).attr("cy", ly).attr("r", 2.7)
      .attr("fill", "none").attr("stroke", scatterColors[i]).attr("stroke-width", 1.2);
    g.append("text").attr("x", cfg.legend.tx).attr("y", ly + 3.8).text(l)
      .attr("font-family", "DejaVu Sans").attr("font-size", 10.5).attr("fill", "#111");
  });
}

function drawHist(cfg) {
  var box = cfg.box;
  var g = svg.append("g").attr("class", "plot");
  var x = d3.scaleLinear().domain(cfg.xd).range(cfg.xr);
  var y = d3.scaleLinear().domain(cfg.yd).range(cfg.yr);
  // seaborn lays the last hue down first
  d3.range(labels.length - 1, -1, -1).forEach(function(i) {
    var rows = cfg.counts[i].map(function(c, k) { return { c: c, k: k }; }).filter(function(d) { return d.c > 0; });
    g.append("g").selectAll("rect").data(rows).enter().append("rect")
      .attr("x", function(d) { return x(cfg.bins.start + d.k * cfg.bins.width); })
      .attr("width", function(d) { return x(cfg.bins.start + (d.k + 1) * cfg.bins.width) - x(cfg.bins.start + d.k * cfg.bins.width); })
      .attr("y", function(d) { return y(d.c); })
      .attr("height", function(d) { return y(0) - y(d.c); })
      .attr("fill", histColors[i]).attr("fill-opacity", .5)
      .attr("stroke", "#000").attr("stroke-opacity", .85).attr("stroke-width", 1);
  });
  var line = d3.line().x(function(d) { return x(d[0]); }).y(function(d) { return y(d[1]); }).curve(d3.curveCatmullRom.alpha(.5));
  d3.range(labels.length - 1, -1, -1).forEach(function(i) {
    g.append("path").attr("d", line(cfg.kde[i])).attr("fill", "none")
      .attr("stroke", histColors[i]).attr("stroke-width", 1.1);
  });
  frame(g, box);
  axes(g, box, x, y, cfg.xTicks, cfg.yTicks, cfg.fmt);
  g.append("text").attr("transform", "translate(" + cfg.ylabX + "," + cfg.ylabY + ") rotate(-90)")
    .attr("text-anchor", "middle").text("Count")
    .attr("font-family", "DejaVu Sans").attr("font-size", 10).attr("fill", "#111");
  legendBox(g, cfg.legend);
  labels.forEach(function(l, i) {
    var ly = cfg.legend.ys[i];
    g.append("rect").attr("x", 765).attr("y", ly - 4.3).attr("width", 21.5).attr("height", 8.6)
      .attr("fill", histColors[i]).attr("fill-opacity", .5)
      .attr("stroke", "#000").attr("stroke-opacity", .8).attr("stroke-width", 1);
    g.append("text").attr("x", 794.5).attr("y", ly + 3.8).text(l)
      .attr("font-family", "DejaVu Sans").attr("font-size", 10.5).attr("fill", "#111");
  });
}

var plainFmt = { x: String, y: String };
var fdmFmt = { x: d3.format(".2f"), y: d3.format(".2f") };

drawScatter({ series: [fpcaAa, fpcaAo, fpcaDcl, fpcaIy, fpcaSh], box: { l: 27, r: 338.5, t: 7.5, b: 224.5 },
  xd: [-10, 10], xr: [30.7, 288.3], yd: [-4, 6], yr: [189.3, 10], xTicks: fpcaXTicks, yTicks: fpcaYTicks, fmt: plainFmt,
  legend: { x0: 344, x1: 400, y0: 8, y1: 107, mx: 359.5, tx: 380, ys: [21, 40, 58.5, 77, 95.5] } });

drawHist({ counts: fpcaCounts, bins: fpcaBins, kde: fpcaKde, box: { l: 457.3, r: 755, t: 7.5, b: 225 },
  xd: [-10, 10], xr: [460.7, 707.7], yd: [0, 100], yr: [225, 10], xTicks: fpcaXTicks, yTicks: fpcaCountTicks, fmt: plainFmt,
  ylabX: 427, ylabY: 117,
  legend: { x0: 760.7, x1: 815, y0: 8, y1: 107, ys: [20, 39, 58, 77, 96] } });

drawScatter({ series: [isoAa, isoAo, isoDcl, isoIy, isoSh], box: { l: 33.3, r: 339.3, t: 318.3, b: 537.7 },
  xd: [-100, 100], xr: [50, 316.7], yd: [-50, 75], yr: [508.3, 349], xTicks: isoXTicks, yTicks: isoYTicks, fmt: plainFmt,
  legend: { x0: 345.3, x1: 400, y0: 320, y1: 419, mx: 360, tx: 380, ys: [331.7, 350.6, 369.7, 388.7, 407.6] } });

drawHist({ counts: isoCounts, bins: isoBins, kde: isoKde, box: { l: 457.3, r: 755, t: 318.3, b: 537.7 },
  xd: [-100, 100], xr: [457.4, 734], yd: [0, 175], yr: [537.7, 339.3], xTicks: isoHistXTicks, yTicks: isoCountTicks, fmt: plainFmt,
  ylabX: 427, ylabY: 428,
  legend: { x0: 760.7, x1: 815, y0: 319, y1: 419, ys: [331, 350, 368.7, 387.7, 406.7] } });

drawScatter({ series: [fdmAa, fdmAo, fdmDcl, fdmIy, fdmSh], box: { l: 42.7, r: 341.3, t: 633.3, b: 851.3 },
  xd: [-.04, .06], xr: [75, 326.7], yd: [-.04, .06], yr: [822, 636.7], xTicks: fdmXTicks, yTicks: fdmYTicks, fmt: fdmFmt,
  legend: { x0: 346.7, x1: 400, y0: 635.3, y1: 734, mx: 361.7, tx: 381, ys: [647.3, 666.3, 685.3, 704, 722.7] } });

drawHist({ counts: fdmCounts, bins: fdmBins, kde: fdmKde, box: { l: 457.3, r: 755, t: 632.3, b: 851.3 },
  xd: [-.04, .06], xr: [488.4, 740.7], yd: [0, 140], yr: [851.3, 636.7], xTicks: fdmXTicks, yTicks: fdmCountTicks, fmt: { x: d3.format(".2f"), y: String },
  ylabX: 427, ylabY: 742,
  legend: { x0: 760.7, x1: 815, y0: 633, y1: 732, ys: [644.7, 663.7, 682.3, 701.3, 720.3] } });

svg.append("g").selectAll("text").data(captions).enter().append("text")
  .attr("x", function(d) { return d.x0; })
  .attr("y", function(d) { return d.y; })
  .attr("textLength", function(d) { return d.x1 - d.x0; })
  .attr("lengthAdjust", "spacing")
  .attr("font-family", "Liberation Serif").attr("font-size", 25).attr("fill", "#111")
  .text(function(d) { return d.t; });
</script>
</body>
</html>
